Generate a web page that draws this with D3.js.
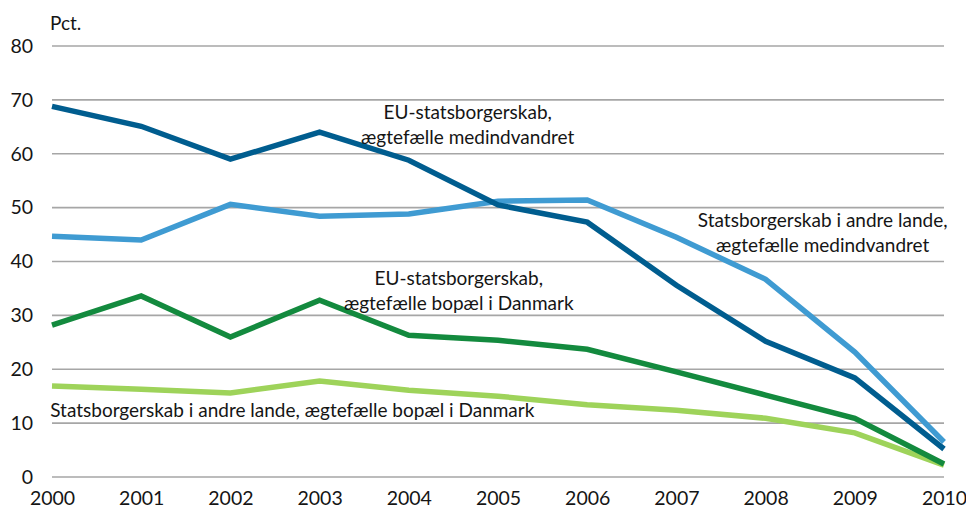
<!DOCTYPE html>
<html>
<head>
<meta charset="utf-8">
<script src="https://cdn.jsdelivr.net/npm/d3@7"></script>
<style>
  body { margin: 0; background: #fff; }
  svg { display: block; font-family: Lato, sans-serif; }
</style>
</head>
<body>
<svg id="chart" width="966" height="510"></svg>
<script>
const years = [2000, 2001, 2002, 2003, 2004, 2005, 2006, 2007, 2008, 2009, 2010]
const yTicks = [0, 10, 20, 30, 40, 50, 60, 70, 80]

const euMedindvandret = [68.8, 65.1, 59.0, 64.0, 58.8, 50.5, 47.3, 35.6, 25.2, 18.4, 5.2]
const andreMedindvandret = [44.7, 44.0, 50.6, 48.4, 48.8, 51.2, 51.4, 44.5, 36.7, 23.2, 6.5]
const euBopael = [28.2, 33.6, 26.0, 32.8, 26.3, 25.4, 23.7, 19.5, 15.2, 10.9, 2.4]
const andreBopael = [16.9, 16.3, 15.6, 17.8, 16.1, 15.0, 13.4, 12.4, 10.9, 8.2, 2.2]

const series = [
  { name: 'andreBopael', values: andreBopael, color: '#9ed35a' },
  { name: 'euBopael', values: euBopael, color: '#138a3e' },
  { name: 'andreMedindvandret', values: andreMedindvandret, color: '#3f9bd2' },
  { name: 'euMedindvandret', values: euMedindvandret, color: '#005d8f' }
]

// labels placed in data coordinates (first baseline)
const labels = [
  { lines: ['EU-statsborgerskab,', 'ægtefælle medindvandret'], x: 2004.66, y: 66.4, anchor: 'middle' },
  { lines: ['Statsborgerskab i andre lande,', 'ægtefælle medindvandret'], x: 2008.64, y: 46.4, anchor: 'middle' },
  { lines: ['EU-statsborgerskab,', 'ægtefælle bopæl i Danmark'], x: 2004.56, y: 35.6, anchor: 'middle' },
  { lines: ['Statsborgerskab i andre lande, ægtefælle bopæl i Danmark'], x: 1999.98, y: 11.1, anchor: 'start' }
]

const svg = d3.select('#chart')
const margin = { left: 52, right: 22, top: 46, bottom: 33 }
const width = 966 - margin.left - margin.right
const height = 510 - margin.top - margin.bottom
const fontSize = '19px'
const ink = '#151515'

const x = d3.scaleLinear().domain([2000, 2010]).range([margin.left, margin.left + width])
const y = d3.scaleLinear().domain([0, 80]).range([margin.top + height, margin.top])

const gGrid = svg.append('g')
gGrid.selectAll('line').data(yTicks).enter().append('line')
  .attr('x1', margin.left).attr('x2', margin.left + width)
  .attr('y1', y).attr('y2', y)
  .style('stroke', '#a6a6a6').style('stroke-width', 1.6)

const yAxis = svg.append('g')
  .attr('transform', `translate(${margin.left - 19},0)`)
  .call(d3.axisLeft(y).tickValues(yTicks).tickSize(0).tickPadding(0))
yAxis.select('.domain').remove()
yAxis.attr('font-family', null)
yAxis.selectAll('text').style('font-size', '19.5px').style('fill', ink)

const xAxis = svg.append('g')
  .attr('transform', `translate(0,${margin.top + height + 14})`)
  .call(d3.axisBottom(x).tickValues(years).tickFormat(d3.format('d')).tickSize(0).tickPadding(0))
xAxis.select('.domain').remove()
xAxis.attr('font-family', null)
xAxis.selectAll('text').style('font-size', '19.5px').style('fill', ink)

svg.append('text').attr('x', margin.left - 2).attr('y', 30)
  .style('font-size', fontSize).style('fill', ink).text('Pct.')

const line = d3.line().x((d, i) => x(years[i])).y(d => y(d))

svg.append('g').selectAll('path').data(series).enter().append('path')
  .attr('d', d => line(d.values))
  .style('fill', 'none')
  .style('stroke', d => d.color)
  .style('stroke-width', 5.5)
  .style('stroke-linejoin', 'miter')

const gLabels = svg.append('g')
labels.forEach(l => {
  const t = gLabels.append('text')
    .attr('text-anchor', l.anchor)
    .style('font-size', fontSize).style('fill', ink)
  l.lines.forEach((s, i) => {
    t.append('tspan').attr('x', x(l.x)).attr('y', y(l.y) + i * 24.5).text(s)
  })
})
</script>
</body>
</html>
